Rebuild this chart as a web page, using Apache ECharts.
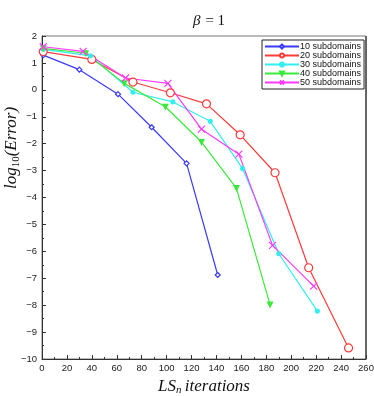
<!DOCTYPE html>
<html>
<head>
<meta charset="utf-8">
<script src="https://cdn.jsdelivr.net/npm/echarts@6/dist/echarts.min.js"></script>
<style>
  html, body { margin: 0; padding: 0; background: #fff; }
  #chart { width: 374px; height: 396px; }
</style>
</head>
<body>
<div id="chart"></div>
<script>
const xTicks = [0, 260, 20];
const yTicks = [-10, 2, 1];

const names = ["10 subdomains", "20 subdomains", "30 subdomains", "40 subdomains", "50 subdomains"];
const colors = ["#3a3aff", "#ff3a3a", "#33eeee", "#3aea3a", "#ff3aff"];

const x10 = [1, 30, 61, 88, 116, 141];
const y10 = [1.29, 0.75, -0.16, -1.39, -2.73, -6.88];
const x20 = [1, 40, 73, 103, 132, 159, 187, 214, 246];
const y20 = [1.42, 1.13, 0.29, -0.11, -0.52, -1.67, -3.08, -6.61, -9.59];
const x30 = [1, 39, 73, 105, 135, 161, 190, 221];
const y30 = [1.5, 1.26, -0.09, -0.45, -1.17, -2.93, -6.09, -8.22];
const x40 = [1, 35, 66, 99, 128, 156, 183];
const y40 = [1.54, 1.36, 0.24, -0.63, -1.94, -3.65, -7.98];
const x50 = [1, 33, 67, 101, 128, 158, 185, 218];
const y50 = [1.6, 1.43, 0.44, 0.24, -1.46, -2.39, -5.78, -7.29];

const xs = [x10, x20, x30, x40, x50];
const ys = [y10, y20, y30, y40, y50];

const cross = "path://M0,0 L10,10 M10,0 L0,10";
const symbols = [
  { symbol: "diamond", size: 5, fill: "#fff" },
  { symbol: "circle", size: 8, fill: "#fff" },
  { symbol: "circle", size: 4, fill: null },
  { symbol: "triangle", size: 5, fill: null, rotate: 180 },
  { symbol: cross, size: 7, fill: "none" },
];

const serif = "Liberation Serif";
const sans = "Liberation Sans";

const series = names.map((name, i) => {
  const s = symbols[i];
  return {
    name: name,
    type: "line",
    data: xs[i].map((x, j) => [x, ys[i][j]]),
    symbol: s.symbol,
    symbolSize: s.size,
    symbolRotate: s.rotate || 0,
    showAllSymbol: true,
    lineStyle: { color: colors[i], width: 1.2 },
    itemStyle: {
      color: s.fill === null ? colors[i] : s.fill,
      borderColor: colors[i],
      borderWidth: 1.2,
    },
    emphasis: { disabled: true },
    animation: false,
  };
});

const chart = echarts.init(document.querySelector("#chart"), null, { renderer: "canvas" });
chart.setOption({
  animation: false,
  title: {
    text: "{b|β} {n|= 1}",
    left: 204,
    textAlign: "center",
    top: 7,
    textStyle: {
      fontWeight: "normal",
      rich: {
        b: { fontFamily: serif, fontStyle: "italic", fontWeight: "normal", fontSize: 15, color: "#111" },
        n: { fontFamily: serif, fontWeight: "normal", fontSize: 15, color: "#111" },
      },
    },
  },
  graphic: [
    {
      type: "text",
      x: 12,
      y: 148,
      rotation: Math.PI / 2,
      silent: true,
      style: {
        text: "{i|log}{s|10}{i|(Error)}",
        align: "center",
        verticalAlign: "middle",
        rich: {
          i: { fontFamily: serif, fontStyle: "italic", fontSize: 17, fill: "#111" },
          s: { fontFamily: serif, fontSize: 11, fill: "#111", padding: [8, 0, 0, 0] },
        },
      },
    },
    {
      type: "rect",
      silent: true,
      shape: { x: 365, y: 36, width: 2, height: 323 },
      style: { fill: "#666" },
    },
  ],
  legend: {
    orient: "vertical",
    left: 262,
    top: 40,
    itemWidth: 34,
    itemHeight: 5,
    itemGap: 0,
    padding: [2, 3, 2, 2],
    borderColor: "#222",
    borderWidth: 1,
    backgroundColor: "#fff",
    textStyle: { fontFamily: sans, fontSize: 9, lineHeight: 8, height: 8, color: "#111", padding: [0, 0, 0, -4] },
    data: names,
  },
  grid: {
    left: 42,
    right: 8,
    top: 36,
    bottom: 37,
    outerBoundsMode: "none",
    containLabel: false,
    show: true,
    borderColor: "#777",
    borderWidth: 1,
  },
  xAxis: {
    type: "value",
    min: xTicks[0],
    max: xTicks[1],
    interval: xTicks[2],
    name: "{i|LS}{s|n} {i|iterations}",
    nameLocation: "middle",
    nameGap: 14,
    nameTextStyle: {
      rich: {
        i: { fontFamily: serif, fontStyle: "italic", fontSize: 17, color: "#111" },
        s: { fontFamily: serif, fontStyle: "italic", fontSize: 11, color: "#111", padding: [8, 0, 0, 0] },
      },
    },
    axisLine: { onZero: false, lineStyle: { color: "#333", width: 1 } },
    axisTick: { inside: true, length: 4, lineStyle: { color: "#333" } },
    minorTick: { show: true, splitNumber: 2, length: 2, lineStyle: { color: "#333" } },
    splitLine: { show: false },
    axisLabel: { fontFamily: sans, fontSize: 9.5, color: "#222", margin: 4 },
  },
  yAxis: {
    type: "value",
    min: yTicks[0],
    max: yTicks[1],
    interval: yTicks[2],
    axisLine: { onZero: false, lineStyle: { color: "#333", width: 1 } },
    axisTick: { inside: true, length: 4, lineStyle: { color: "#333" } },
    minorTick: { show: true, splitNumber: 2, length: 2, lineStyle: { color: "#333" } },
    splitLine: { show: false },
    axisLabel: {
      fontFamily: sans,
      fontSize: 9.5,
      color: "#222",
      margin: 5,
      formatter: v => (v < 0 ? "\u2212" + Math.abs(v) : String(v)),
    },
  },
  series: series,
});
</script>
</body>
</html>
